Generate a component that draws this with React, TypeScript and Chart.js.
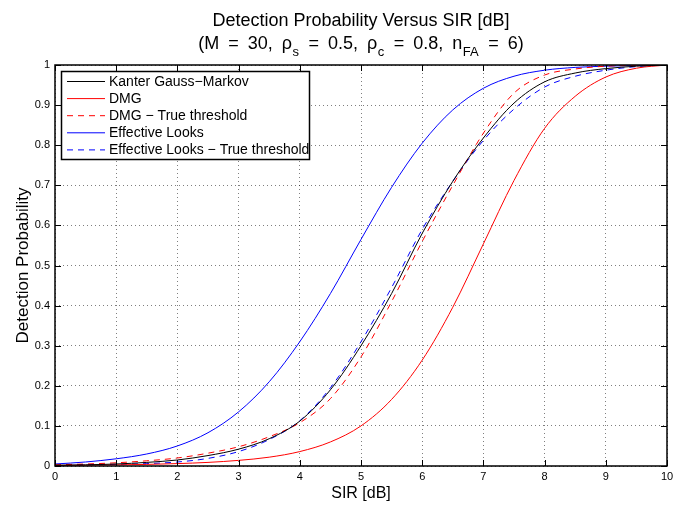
import React, { useEffect, useRef } from 'react';
import { Chart, registerables } from 'chart.js';

Chart.register(...registerables);

const sir = [0, 0.5, 1, 1.5, 2, 2.5, 3, 3.5, 4, 4.5, 5, 5.5, 6, 6.5, 7, 7.5, 8, 8.5, 9, 9.5, 10];
const kanterGaussMarkov = [0.002, 0.003, 0.005, 0.009, 0.015, 0.026, 0.042, 0.068, 0.112, 0.19, 0.3, 0.43, 0.58, 0.71, 0.818, 0.905, 0.958, 0.98, 0.991, 0.997, 1.0];
const dmg = [0.0014, 0.002, 0.0028, 0.004, 0.006, 0.009, 0.014, 0.022, 0.036, 0.06, 0.1, 0.166, 0.264, 0.396, 0.554, 0.712, 0.842, 0.922, 0.97, 0.992, 1.0];
const dmgTrueThreshold = [0.003, 0.005, 0.008, 0.013, 0.02, 0.032, 0.048, 0.073, 0.108, 0.168, 0.272, 0.41, 0.56, 0.7, 0.83, 0.93, 0.975, 0.99, 0.997, 0.999, 1.0];
const effectiveLooks = [0.005, 0.01, 0.018, 0.03, 0.05, 0.083, 0.135, 0.21, 0.31, 0.43, 0.565, 0.695, 0.805, 0.888, 0.942, 0.972, 0.987, 0.994, 0.997, 0.999, 1.0];
const effectiveLooksTrue = [0.002, 0.003, 0.004, 0.006, 0.01, 0.019, 0.036, 0.066, 0.113, 0.195, 0.31, 0.445, 0.59, 0.71, 0.812, 0.89, 0.945, 0.972, 0.987, 0.996, 1.0];

const seriesLabels = [
  'Kanter Gauss\u2212Markov',
  'DMG',
  'DMG \u2212 True threshold',
  'Effective Looks',
  'Effective Looks \u2212 True threshold',
];
const xTickValues = [0, 1, 2, 3, 4, 5, 6, 7, 8, 9, 10];
const yTickValues = [0, 0.1, 0.2, 0.3, 0.4, 0.5, 0.6, 0.7, 0.8, 0.9, 1];

const titleLine1 = 'Detection Probability Versus SIR [dB]';
const titleLine2: Array<[string, boolean]> = [
  ['(M = 30, \u03c1', false],
  ['s', true],
  [' = 0.5, \u03c1', false],
  ['c', true],
  [' = 0.8, n', false],
  ['FA', true],
  [' = 6)', false],
];
const xTitle = 'SIR [dB]';
const yTitle = 'Detection Probability';

const FONT = '"Liberation Sans", Arial, Helvetica, sans-serif';

// width of text where each space gets extra room
function spacedWidth(ctx: CanvasRenderingContext2D, t: string, extra: number) {
  const parts = t.split(' ');
  let w = 0;
  const sp = ctx.measureText(' ').width + extra;
  parts.forEach((p, i) => {
    w += ctx.measureText(p).width;
    if (i < parts.length - 1) w += sp;
  });
  return w;
}
function spacedDraw(ctx: CanvasRenderingContext2D, t: string, x: number, y: number, extra: number) {
  const parts = t.split(' ');
  const sp = ctx.measureText(' ').width + extra;
  let cx = x;
  parts.forEach((p, i) => {
    ctx.fillText(p, cx, y);
    cx += ctx.measureText(p).width;
    if (i < parts.length - 1) cx += sp;
  });
  return cx - x;
}

const decorPlugin = {
  id: 'matlabDecor',
  afterDraw(chart: any) {
    const ctx = chart.ctx as CanvasRenderingContext2D;
    const area = chart.chartArea;
    const xs = chart.scales.x;
    const ys = chart.scales.y;
    ctx.save();

    // Legend box
    const lx0 = 61.5, ly0 = 71.5, lx1 = 309.5, ly1 = 159.5;
    ctx.fillStyle = '#fff';
    ctx.fillRect(lx0, ly0, lx1 - lx0, ly1 - ly0);
    ctx.strokeStyle = '#000';
    ctx.lineWidth = 1.5;
    ctx.setLineDash([]);
    ctx.strokeRect(lx0, ly0, lx1 - lx0, ly1 - ly0);
    ctx.font = '14px ' + FONT;
    ctx.textBaseline = 'middle';
    ctx.textAlign = 'left';
    chart.data.datasets.forEach((ds: any, i: number) => {
      const yy = 81.5 + i * 17.1;
      ctx.beginPath();
      ctx.strokeStyle = ds.borderColor;
      ctx.lineWidth = 1;
      ctx.setLineDash(ds.borderDash || []);
      ctx.moveTo(67, yy);
      ctx.lineTo(105, yy);
      ctx.stroke();
      ctx.setLineDash([]);
      ctx.fillStyle = '#000';
      ctx.fillText(ds.label, 109, yy + 0.5);
    });

    // Frame
    ctx.setLineDash([]);
    ctx.strokeStyle = '#000';
    ctx.lineWidth = 1.5;
    ctx.strokeRect(area.left, area.top, area.right - area.left, area.bottom - area.top);
    ctx.lineWidth = 1;
    ctx.beginPath();
    xTickValues.forEach((v) => {
      const px = Math.round(xs.getPixelForValue(v)) + 0.5;
      ctx.moveTo(px, area.bottom);
      ctx.lineTo(px, area.bottom - 6);
      ctx.moveTo(px, area.top);
      ctx.lineTo(px, area.top + 6);
    });
    yTickValues.forEach((v) => {
      const py = Math.round(ys.getPixelForValue(v)) + 0.5;
      ctx.moveTo(area.left, py);
      ctx.lineTo(area.left + 6, py);
      ctx.moveTo(area.right, py);
      ctx.lineTo(area.right - 6, py);
    });
    ctx.stroke();

    // Titles
    const cx = (area.left + area.right) / 2;
    ctx.fillStyle = '#000';
    ctx.textAlign = 'center';
    ctx.textBaseline = 'alphabetic';
    ctx.font = '18px ' + FONT;
    ctx.fillText(titleLine1, cx, 26);

    const mainFont = '18px ' + FONT;
    const subFont = '13px ' + FONT;
    const extra = 4;
    let total = 0;
    titleLine2.forEach(([t, sub]) => {
      ctx.font = sub ? subFont : mainFont;
      total += sub ? ctx.measureText(t).width + 1 : spacedWidth(ctx, t, extra);
    });
    let x = cx - total / 2;
    ctx.textAlign = 'left';
    titleLine2.forEach(([t, sub]) => {
      if (sub) {
        ctx.font = subFont;
        ctx.fillText(t, x + 0.5, 56);
        x += ctx.measureText(t).width + 1;
      } else {
        ctx.font = mainFont;
        x += spacedDraw(ctx, t, x, 49, extra);
      }
    });

    ctx.textAlign = 'center';
    ctx.font = '16px ' + FONT;
    ctx.fillText(xTitle, cx, 498);

    ctx.save();
    ctx.translate(28, (area.top + area.bottom) / 2);
    ctx.rotate(-Math.PI / 2);
    ctx.font = '17px ' + FONT;
    ctx.fillText(yTitle, 0, 0);
    ctx.restore();

    ctx.restore();
  },
};

export default function App() {
  const ref = useRef<HTMLCanvasElement | null>(null);

  useEffect(() => {
    if (!ref.current) return;
    const mk = (vals: number[]) => sir.map((x, i) => ({ x, y: vals[i] }));
    const colors = ['#000000', '#ff0000', '#ff0000', '#0000ff', '#0000ff'];
    const dashes: number[][] = [[], [], [6, 5], [], [6, 5]];
    const all = [kanterGaussMarkov, dmg, dmgTrueThreshold, effectiveLooks, effectiveLooksTrue];
    const chart = new Chart(ref.current, {
      type: 'line',
      data: {
        datasets: all.map((vals, i) => ({
          label: seriesLabels[i],
          data: mk(vals),
          borderColor: colors[i],
          backgroundColor: colors[i],
          borderWidth: 1,
          borderDash: dashes[i],
          pointRadius: 0,
          cubicInterpolationMode: 'monotone' as const,
          fill: false,
        })),
      },
      options: {
        animation: false,
        responsive: false,
        maintainAspectRatio: false,
        layout: { padding: { top: 65, right: 28, bottom: 0, left: 0 } },
        plugins: {
          legend: { display: false },
          title: { display: false },
          tooltip: { enabled: false },
        },
        scales: {
          x: {
            type: 'linear',
            min: 0,
            max: 10,
            afterFit: (s: any) => { s.height = 39; },
            afterBuildTicks: (s: any) => { s.ticks = xTickValues.map((v) => ({ value: v })); },
            ticks: {
              color: '#000',
              font: { family: FONT, size: 11 },
              padding: 4,
              maxRotation: 0,
              callback: (v: any) => String(v),
            },
            grid: { color: 'rgba(0,0,0,0.5)', lineWidth: 1, drawTicks: false },
            border: { display: false, dash: [1, 3] },
          },
          y: {
            type: 'linear',
            min: 0,
            max: 1,
            afterFit: (s: any) => { s.width = 55; },
            afterBuildTicks: (s: any) => { s.ticks = yTickValues.map((v) => ({ value: v })); },
            ticks: {
              color: '#000',
              font: { family: FONT, size: 11 },
              padding: 5,
              callback: (v: any) => String(Math.round(Number(v) * 10) / 10),
            },
            grid: { color: 'rgba(0,0,0,0.5)', lineWidth: 1, drawTicks: false },
            border: { display: false, dash: [1, 3] },
          },
        },
      },
      plugins: [decorPlugin],
    });
    return () => chart.destroy();
  }, []);

  return (
    <div style={{ position: 'fixed', left: 0, top: 0, width: 695, height: 505, background: '#fff' }}>
      <canvas ref={ref} width={695} height={505} style={{ display: 'block', width: 695, height: 505 }} />
    </div>
  );
}
